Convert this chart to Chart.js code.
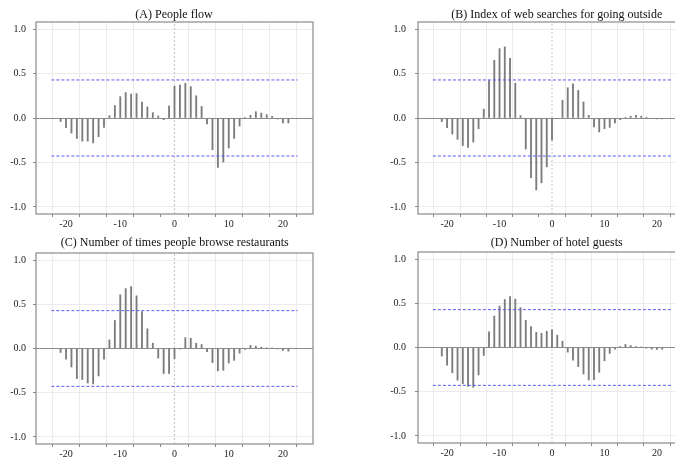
<!DOCTYPE html>
<html><head><meta charset="utf-8">
<script src="https://cdn.jsdelivr.net/npm/chart.js@4"></script>
<style>
html,body{margin:0;padding:0;background:#fff;overflow:hidden;width:675px;height:459px;position:relative}
canvas{position:absolute}
</style></head><body>
<script>
// ---- data ----
const lags = [-21,-20,-19,-18,-17,-16,-15,-14,-13,-12,-11,-10,-9,-8,-7,-6,-5,-4,-3,-2,-1,0,1,2,3,4,5,6,7,8,9,10,11,12,13,14,15,16,17,18,19,20,21];
const peopleFlow = [-0.04,-0.11,-0.17,-0.23,-0.26,-0.26,-0.28,-0.21,-0.105,0.026,0.14,0.24,0.286,0.27,0.275,0.18,0.124,0.06,0.023,-0.02,0.135,
  0.357,0.372,0.39,0.353,0.25,0.13,-0.068,-0.357,-0.556,-0.496,-0.338,-0.23,-0.09,0.008,0.03,0.071,0.056,0.038,0.019,-0.011,-0.056,-0.056];
const webSearches = [-0.04,-0.11,-0.18,-0.24,-0.31,-0.33,-0.27,-0.12,0.10,0.42,0.65,0.78,0.80,0.67,0.39,0.026,-0.35,-0.67,-0.81,-0.73,-0.55,
  -0.25,-0.005,0.20,0.34,0.385,0.31,0.18,0.03,-0.10,-0.157,-0.12,-0.105,-0.056,-0.02,0.005,0.02,0.03,0.02,0.008,-0.005,-0.01,-0.01];
const restaurantBrowse = [-0.045,-0.12,-0.21,-0.34,-0.35,-0.39,-0.40,-0.31,-0.12,0.097,0.317,0.607,0.678,0.70,0.596,0.417,0.223,0.06,-0.108,-0.283,-0.283,
  -0.115,-0.005,0.123,0.115,0.06,0.045,-0.037,-0.16,-0.253,-0.246,-0.164,-0.134,-0.052,-0.01,0.034,0.026,0.015,0.007,0.004,-0.004,-0.022,-0.03];
const hotelGuests = [-0.097,-0.2,-0.285,-0.37,-0.41,-0.44,-0.45,-0.31,-0.09,0.176,0.356,0.468,0.543,0.577,0.547,0.45,0.307,0.236,0.172,0.161,0.183,
  0.20,0.139,0.071,-0.052,-0.142,-0.217,-0.30,-0.367,-0.363,-0.28,-0.15,-0.067,-0.019,0.011,0.034,0.022,0.011,0.004,-0.007,-0.019,-0.022,-0.02];
const titles = ['(A) People flow','(B) Index of web searches for going outside','(C) Number of times people browse restaurants','(D) Number of hotel guests'];
const confBound = 0.428;
const xTickValues = [-20,-15,-10,-5,0,5,10,15,20];
const yTickValues = [-1.0,-0.5,0.0,0.5,1.0];
const xMin = -22.7, xMax = 22.7, yMin = -1.08, yMax = 1.08;

// ---- layout (positions & sizes only) ----
const layouts = [
  {left:0,   top:0,   w:340, h:230, yW:36, padT:22, padR:27, xH:16, yPad:7, tX:174,   tY:18},
  {left:340, top:0,   w:360, h:230, yW:78, padT:22, padR:14, xH:16, yPad:9, tX:556.8, tY:18},
  {left:0,   top:230, w:340, h:229, yW:36, padT:23, padR:27, xH:15, yPad:7, tX:174.8, tY:246.3},
  {left:340, top:230, w:360, h:229, yW:78, padT:22, padR:14, xH:16, yPad:9, tX:556.7, tY:246.3}
];
const series = [peopleFlow, webSearches, restaurantBrowse, hotelGuests];

const FONT = "'Liberation Serif','Times New Roman',serif";
const BLUE = '#5a5af0';

series.forEach((vals, i) => {
  const L = layouts[i];
  const cv = document.createElement('canvas');
  cv.width = L.w; cv.height = L.h;
  cv.style.left = L.left + 'px'; cv.style.top = L.top + 'px';
  cv.style.width = L.w + 'px'; cv.style.height = L.h + 'px';
  document.body.appendChild(cv);

  const boxPlugin = {
    id: 'box' + i,
    afterDatasetsDraw(chart) {
      const a = chart.chartArea, c = chart.ctx;
      c.save();
      c.strokeStyle = '#8a8a8a'; c.lineWidth = 1.2;
      c.strokeRect(a.left, a.top, a.right - a.left, a.bottom - a.top);
      c.restore();
    },
    afterDraw(chart) {
      const c = chart.ctx;
      c.save();
      c.fillStyle = '#111';
      c.font = "12px " + FONT;
      c.textAlign = 'center'; c.textBaseline = 'alphabetic';
      c.fillText(titles[i], L.tX - L.left, L.tY - L.top);
      c.restore();
    }
  };

  new Chart(cv, {
    type: 'bar',
    data: {
      datasets: [
        { type:'line', data:[{x:xMin,y:confBound},{x:xMax,y:confBound}], borderColor:BLUE, backgroundColor:BLUE, borderWidth:1, borderDash:[3,2], pointRadius:0, fill:false, order:1 },
        { type:'line', data:[{x:xMin,y:-confBound},{x:xMax,y:-confBound}], borderColor:BLUE, backgroundColor:BLUE, borderWidth:1, borderDash:[3,2], pointRadius:0, fill:false, order:1 },
        { type:'bar', data: lags.map((x, k) => ({x, y: vals[k]})), backgroundColor:'#7c7c7c', borderWidth:0, barThickness:1.2, grouped:false, order:2 },
        { type:'line', data:[{x:0,y:yMin},{x:0,y:yMax}], borderColor:'#c4c4c4', borderWidth:1, borderDash:[2,2], pointRadius:0, fill:false, order:3 }
      ]
    },
    options: {
      responsive:false, animation:false, devicePixelRatio:1,
      layout:{ padding:{ left:0, right:L.padR, top:L.padT, bottom:0 } },
      plugins:{ legend:{display:false}, tooltip:{enabled:false}, title:{display:false} },
      scales:{
        x:{
          type:'linear', min:xMin, max:xMax,
          afterBuildTicks: s => { s.ticks = xTickValues.map(v => ({value:v})); },
          afterFit: s => { s.height = L.xH; },
          border:{display:false},
          grid:{ color: c => (c.tick && c.tick.value === 0) ? 'rgba(0,0,0,0)' : '#ebebeb', lineWidth:1, tickLength:3, tickColor:'#888', drawTicks:true },
          ticks:{ autoSkip:false, maxRotation:0, padding:1, color:'#222', font:{family:FONT, size:10},
                  callback: v => (v % 10 === 0) ? String(v) : '' }
        },
        y:{
          type:'linear', min:yMin, max:yMax,
          afterBuildTicks: s => { s.ticks = yTickValues.map(v => ({value:v})); },
          afterFit: s => { s.width = L.yW; },
          border:{display:false},
          grid:{ color: c => (c.tick && c.tick.value === 0) ? '#8c8c8c' : '#ebebeb', lineWidth: 1, tickLength:3, tickColor:'#888', drawTicks:true },
          ticks:{ padding:L.yPad, color:'#222', font:{family:FONT, size:10},
                  callback: v => Number(v).toFixed(1) }
        }
      }
    },
    plugins:[boxPlugin]
  });
});
</script>
</body></html>
